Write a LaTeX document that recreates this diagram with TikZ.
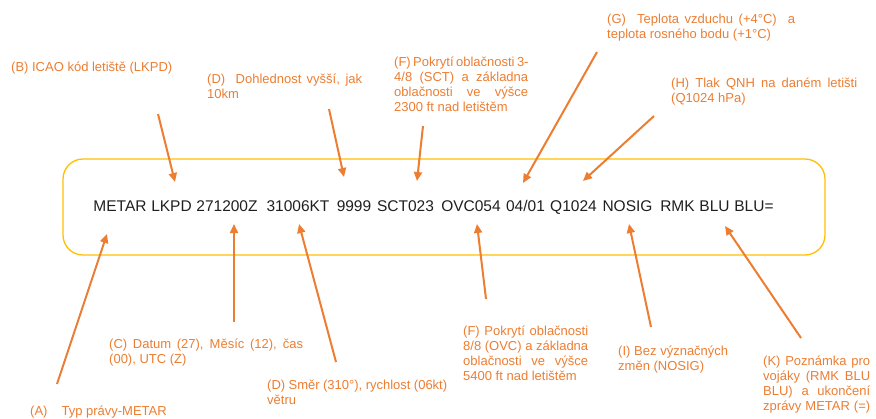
\documentclass[tikz,border=0pt]{standalone}
\usepackage{fontspec}
\setmainfont{Liberation Sans}
\usetikzlibrary{arrows.meta}
\definecolor{orng}{HTML}{ED7D31}
\definecolor{boxy}{HTML}{FFC000}
\definecolor{ink}{HTML}{1F1F1F}
\newcommand{\jl}[2]{\makebox[#1][s]{#2}}
\begin{document}
\begin{tikzpicture}[x=1pt,y=-1pt,
  tok/.style={anchor=base, inner sep=0pt, font=\fontsize{15.5}{18}\selectfont, text=ink},
  lbl/.style={anchor=base west, inner sep=0pt, align=left, font=\fontsize{13}{15}\selectfont, text=orng},
  arr/.style={draw=orng, line width=2pt, -{Triangle[length=9pt,width=8pt]}},
  frame/.style={draw=boxy, line width=1.3pt, rounded corners=20pt, inner sep=0pt}]
\useasboundingbox (0,0) rectangle (876,418);
% frame
\node[frame, minimum width=762pt, minimum height=96pt] (box) at (444,207) {};
% tokens (centred on their spans)
\node[tok] (t1) at (120,211) {METAR};
\node[tok] (t2) at (171.5,211) {LKPD};
\node[tok] (t3) at (227,211) {271200Z};
\node[tok] (t4) at (298,211) {31006KT};
\node[tok] (t5) at (354,211) {9999};
\node[tok] (t6) at (405.5,211) {SCT023};
\node[tok] (t7) at (471,211) {OVC054};
\node[tok] (t8) at (525.5,211) {04/01};
\node[tok] (t9) at (573.5,211) {Q1024};
\node[tok] (t10) at (627.5,211) {NOSIG};
\node[tok] (t11) at (677.5,211) {RMK};
\node[tok] (t12) at (714.5,211) {BLU};
\node[tok] (t13) at (754,211) {BLU=};
% labels (anchored at the baseline of their last line)
\node[lbl] (lB) at (11,71) {(B) ICAO kód letiště (LKPD)};
\node[lbl] (lD) at (207,98) {\jl{155pt}{(D)\ \ Dohlednost vyšší, jak}\\10km};
\node[lbl] (lF) at (394,111) {\jl{134pt}{(F) Pokrytí oblačnosti 3-}\\\jl{134pt}{4/8 (SCT) a základna}\\\jl{134pt}{oblačnosti ve výšce}\\2300 ft nad letištěm};
\node[lbl] (lG) at (607,38) {\jl{188pt}{(G)\ \ Teplota vzduchu (+4°C)\ \ a}\\teplota rosného bodu (+1°C)};
\node[lbl] (lH) at (671,102) {\jl{186pt}{(H) Tlak QNH na daném letišti}\\(Q1024 hPa)};
\node[lbl] (lA) at (30,415) {(A)\hspace{14pt}Typ právy-METAR};
\node[lbl] (lC) at (109,363) {\jl{194pt}{(C) Datum (27), Měsíc (12), čas}\\(00), UTC (Z)};
\node[lbl] (lD2) at (267,404) {\jl{180pt}{(D) Směr (310°), rychlost (06kt)}\\větru};
\node[lbl] (lF2) at (463,380) {\jl{125pt}{(F) Pokrytí oblačnosti}\\\jl{125pt}{8/8 (OVC) a základna}\\\jl{125pt}{oblačnosti ve výšce}\\5400 ft nad letištěm};
\node[lbl] (lI) at (618,370) {\jl{110pt}{(I) Bez význačných}\\změn (NOSIG)};
\node[lbl] (lK) at (763,410) {\jl{107pt}{(K) Poznámka pro}\\\jl{107pt}{vojáky (RMK BLU}\\\jl{107pt}{BLU) a ukončení}\\\jl{107pt}{zprávy METAR (=)}};
% arrow end points
\coordinate (sB) at (158,114);  \coordinate (eB) at (175,182);
\coordinate (sD) at (329,109);  \coordinate (eD) at (344,177);
\coordinate (sF) at (423,126);  \coordinate (eF) at (417,181);
\coordinate (sG) at (597,52);   \coordinate (eG) at (523,183);
\coordinate (sH) at (654,116);  \coordinate (eH) at (583,181);
\coordinate (sA) at (57,384);   \coordinate (eA) at (107,234);
\coordinate (sC) at (234,322);  \coordinate (eC) at (234,224);
\coordinate (sD2) at (336,362); \coordinate (eD2) at (299,224);
\coordinate (sF2) at (486,299); \coordinate (eF2) at (477,224);
\coordinate (sI) at (651,327);  \coordinate (eI) at (629,224);
\coordinate (sK) at (801,338);  \coordinate (eK) at (725,226);
% arrows
\foreach \n in {B,D,F,G,H,A,C,D2,F2,I,K} {\draw[arr] (s\n) -- (e\n);}
\end{tikzpicture}
\end{document}
